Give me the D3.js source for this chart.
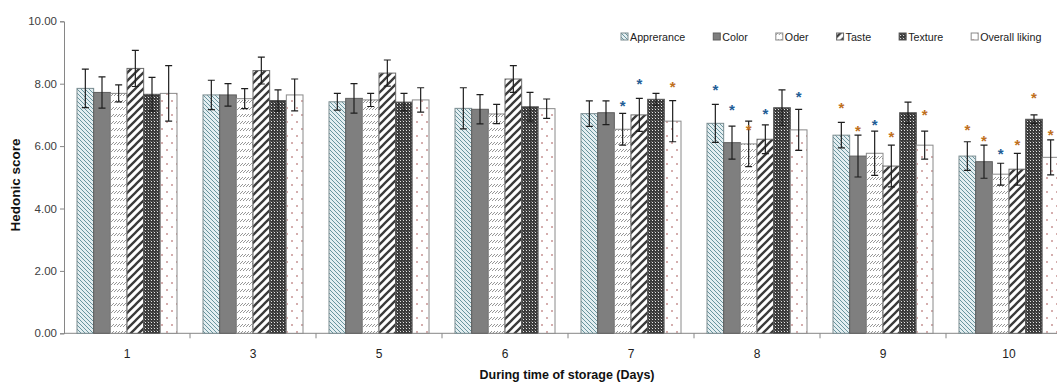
<!DOCTYPE html>
<html>
<head>
<meta charset="utf-8">
<script src="https://cdn.jsdelivr.net/npm/d3@7"></script>
<style>
	body { margin: 0; background: #fff; }
	svg { display: block; }
	text { font-family: "Liberation Sans", Arial, sans-serif; }
</style>
</head>
<body>
<svg id="chart"></svg>
<script>
// categories: storage day
let days = ["1", "3", "5", "6", "7", "8", "9", "10"];
let attributes = ["Apprerance", "Color", "Oder", "Taste", "Texture", "Overall liking"];

// mean hedonic score per day, one array per attribute
let apprerance = [7.85, 7.64, 7.42, 7.21, 7.04, 6.73, 6.35, 5.68];
let color      = [7.72, 7.64, 7.53, 7.18, 7.07, 6.11, 5.68, 5.50];
let oder       = [7.69, 7.52, 7.48, 7.03, 6.54, 6.07, 5.77, 5.10];
let taste      = [8.49, 8.42, 8.34, 8.15, 7.00, 6.22, 5.36, 5.26];
let texture    = [7.66, 7.46, 7.41, 7.26, 7.50, 7.23, 7.07, 6.86];
let overall    = [7.69, 7.64, 7.48, 7.20, 6.80, 6.52, 6.03, 5.64];

// standard deviations
let aprErr = [0.62, 0.47, 0.27, 0.66, 0.41, 0.61, 0.41, 0.46];
let colErr = [0.50, 0.36, 0.47, 0.47, 0.38, 0.53, 0.67, 0.53];
let odeErr = [0.27, 0.32, 0.21, 0.31, 0.51, 0.73, 0.71, 0.35];
let tasErr = [0.58, 0.43, 0.42, 0.43, 0.53, 0.46, 0.67, 0.51];
let texErr = [0.54, 0.34, 0.28, 0.46, 0.19, 0.57, 0.34, 0.14];
let ovrErr = [0.89, 0.51, 0.39, 0.31, 0.66, 0.66, 0.45, 0.56];

// significance marks: [day, attribute, level, kind] (kind "b" = blue, "o" = orange)
let stars = [
	["7", "Oder", 7.39, "b"], ["7", "Taste", 8.09, "b"], ["7", "Overall liking", 7.98, "o"],
	["8", "Apprerance", 7.88, "b"], ["8", "Color", 7.24, "b"], ["8", "Oder", 6.62, "o"],
	["8", "Taste", 7.13, "b"], ["8", "Overall liking", 7.67, "b"],
	["9", "Apprerance", 7.32, "o"], ["9", "Color", 6.59, "o"], ["9", "Oder", 6.78, "b"],
	["9", "Taste", 6.39, "o"], ["9", "Overall liking", 7.09, "o"],
	["10", "Apprerance", 6.62, "o"], ["10", "Color", 6.25, "o"], ["10", "Oder", 5.85, "b"],
	["10", "Taste", 6.14, "o"], ["10", "Texture", 7.64, "o"], ["10", "Overall liking", 6.46, "o"]
];

let yTicks = [0, 2, 4, 6, 8, 10];

let means = [apprerance, color, oder, taste, texture, overall];
let errs = [aprErr, colErr, odeErr, tasErr, texErr, ovrErr];

let width = 1057, height = 385;
let svg = d3.select("#chart").attr("width", width).attr("height", height);

// ---- patterns
let defs = svg.append("defs");
function pattern(id, w, h){
	return defs.append("pattern").attr("id", id)
		.attr("patternUnits", "userSpaceOnUse")
		.attr("width", w).attr("height", h);
}
let p;
p = pattern("p0", 4, 4);
p.append("rect").attr("width", 4).attr("height", 4).attr("fill", "#e4eef1");
p.append("path").attr("d", "M0,0L4,4M-1,3L1,5M3,-1L5,1")
	.attr("stroke", "#4a7d89").attr("stroke-width", 0.8);

p = pattern("p1", 4, 4);
p.append("rect").attr("width", 4).attr("height", 4).attr("fill", "#7f7f7f");

p = pattern("p2", 3, 7);
p.append("rect").attr("width", 3).attr("height", 7).attr("fill", "#fff");
p.append("path").attr("d", "M0,5L3,2").attr("stroke", "#8a8a8a").attr("stroke-width", 0.9);

p = pattern("p3", 8, 8);
p.append("rect").attr("width", 8).attr("height", 8).attr("fill", "#fff");
p.append("path").attr("d", "M0,8L8,0M-2,2L2,-2M6,10L10,6")
	.attr("stroke", "#3a3a3a").attr("stroke-width", 2.3);

p = pattern("p4", 3, 3);
p.append("rect").attr("width", 3).attr("height", 3).attr("fill", "#3a3a3a");
p.append("rect").attr("x", 1).attr("y", 1).attr("width", 1).attr("height", 1).attr("fill", "#e6e6e6");
p.append("rect").attr("x", 0).attr("y", 0).attr("width", 1).attr("height", 1).attr("fill", "#6a6a6a");

p = pattern("p5", 10, 14);
p.append("rect").attr("width", 10).attr("height", 14).attr("fill", "#fff");
p.append("circle").attr("cx", 2).attr("cy", 3).attr("r", 0.8).attr("fill", "#a04848");
p.append("circle").attr("cx", 7).attr("cy", 10).attr("r", 0.8).attr("fill", "#a04848");

let strokes = ["#7a8c90", "#5e5e5e", "#8a8a8a", "#6a6a6a", "#555", "#8a8a8a"];

// ---- scales
let x = d3.scaleBand().domain(days).range([64, 64 + days.length * 126]);
let xs = d3.scaleBand().domain(attributes).range([13, 113]);
let y = d3.scaleLinear().domain([0, 10]).range([333.3, 21.3]);

// ---- axes
let yAxis = svg.append("g").attr("transform", "translate(64,0)")
	.call(d3.axisLeft(y).tickValues(yTicks).tickFormat(d3.format(".2f")).tickSizeOuter(0).tickSize(4));
yAxis.select(".domain").attr("stroke", "#868686");
yAxis.selectAll(".tick line").attr("stroke", "#868686");
yAxis.selectAll(".tick text").attr("fill", "#404040").attr("font-size", 11.5).attr("x", -7);

let xAxis = svg.append("g").attr("transform", "translate(0,333.3)");
xAxis.append("line").attr("x1", 64).attr("x2", width).attr("stroke", "#868686");
xAxis.selectAll("line.tk").data(days)
	.join("line").attr("class", "tk")
	.attr("x1", d => x(d) + x.bandwidth())
	.attr("x2", d => x(d) + x.bandwidth())
	.attr("y1", 0).attr("y2", 5).attr("stroke", "#868686");
xAxis.selectAll("text").data(days).join("text")
	.attr("x", d => x(d) + x.bandwidth() / 2).attr("y", 25)
	.attr("text-anchor", "middle").attr("font-size", 12).attr("fill", "#222")
	.text(d => d);

// ---- bars
attributes.forEach((a, k) => {
	let rows = days.map((d, i) => ({day: d, v: means[k][i], e: errs[k][i]}));
	let g = svg.append("g");
	g.selectAll("rect").data(rows).join("rect")
		.attr("x", d => x(d.day) + xs(a))
		.attr("y", d => y(d.v))
		.attr("width", xs.bandwidth())
		.attr("height", d => y(0) - y(d.v))
		.attr("fill", "url(#p" + k + ")")
		.attr("stroke", strokes[k]).attr("stroke-width", 1);
	let cx = d => x(d.day) + xs(a) + xs.bandwidth() / 2;
	g.selectAll("path.err").data(rows).join("path").attr("class", "err")
		.attr("d", d => {
			let t = y(d.v + d.e), b = y(d.v - d.e), c = cx(d);
			return "M" + c + "," + t + "V" + b + "M" + (c - 3.5) + "," + t + "H" + (c + 3.5)
				+ "M" + (c - 3.5) + "," + b + "H" + (c + 3.5);
		})
		.attr("stroke", "#1e1e1e").attr("stroke-width", 1.2).attr("fill", "none");
});

// ---- significance stars
svg.selectAll("text.star").data(stars).join("text").attr("class", "star")
	.attr("x", d => x(d[0]) + xs(d[1]) + xs.bandwidth() / 2)
	.attr("y", d => y(d[2]) + 8)
	.attr("text-anchor", "middle")
	.attr("font-size", 15).attr("font-weight", "bold")
	.attr("fill", d => d[3] == "b" ? "#1f5d96" : "#c0701c")
	.text("*");

// ---- legend
let legend = svg.append("g").attr("transform", "translate(621,37)");
let lx = 0;
attributes.forEach((a, k) => {
	let item = legend.append("g").attr("transform", "translate(" + lx + ",0)");
	item.append("rect").attr("x", 0).attr("y", -4).attr("width", 7).attr("height", 7)
		.attr("fill", "url(#p" + k + ")").attr("stroke", strokes[k]);
	let t = item.append("text").attr("x", 9).attr("y", 4)
		.attr("font-size", 10.7).attr("fill", "#222").text(a);
	lx += 9 + t.node().getComputedTextLength() + 28;
});

// ---- titles
svg.append("text")
	.attr("transform", "translate(20,185) rotate(-90)")
	.attr("text-anchor", "middle").attr("font-size", 13.5).attr("font-weight", "bold")
	.attr("font-family", "DejaVu Sans").attr("fill", "#111")
	.text("Hedonic score");
svg.append("text")
	.attr("x", 567).attr("y", 379)
	.attr("text-anchor", "middle").attr("font-size", 12.5).attr("font-weight", "bold")
	.attr("fill", "#111")
	.text("During time of storage (Days)");
</script>
</body>
</html>
